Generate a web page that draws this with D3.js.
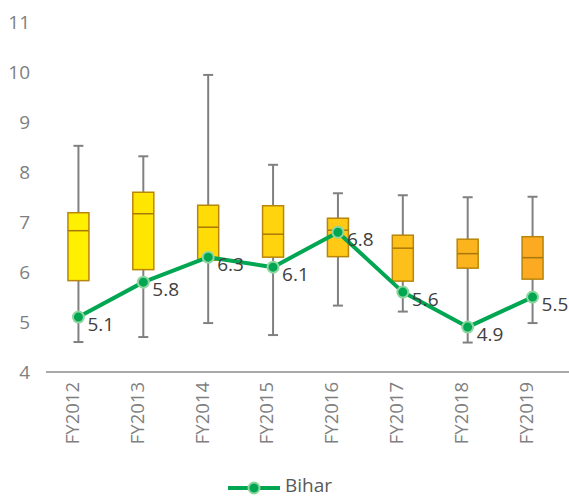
<!DOCTYPE html>
<html>
<head>
<meta charset="utf-8">
<script src="https://cdn.jsdelivr.net/npm/d3@7"></script>
<style>
  html, body { margin: 0; padding: 0; background: #fff; }
  svg { display: block; font-family: "Open Sans", "Noto Sans", sans-serif; }
</style>
</head>
<body>
<svg id="chart" width="569" height="497"></svg>
<script>
// Fiscal years on the x axis
const years = ["FY2012", "FY2013", "FY2014", "FY2015", "FY2016", "FY2017", "FY2018", "FY2019"];

// Box-plot statistics across states for each year
const whiskerLow  = [4.60, 4.70, 4.98, 4.74, 5.33, 5.21, 4.59, 4.98];
const boxQ1       = [5.83, 6.05, 6.24, 6.30, 6.31, 5.82, 6.08, 5.86];
const boxMedian   = [6.83, 7.17, 6.90, 6.76, 6.84, 6.48, 6.37, 6.29];
const boxQ3       = [7.19, 7.60, 7.34, 7.33, 7.08, 6.74, 6.66, 6.71];
const whiskerHigh = [8.53, 8.32, 9.95, 8.15, 7.58, 7.54, 7.50, 7.51];

// Bihar's value for each year
const bihar = [5.1, 5.8, 6.3, 6.1, 6.8, 5.6, 4.9, 5.5];

// Y axis tick values
const yTicks = [4, 5, 6, 7, 8, 9, 10, 11];

// Box fill colours, shading from yellow to orange over the years
const boxColors = ["#FFF000", "#FFE600", "#FFDC05", "#FFD40E", "#FFC916", "#FDC01A", "#FCB41E", "#FBAA22"];

const svg = d3.select("#chart");

const x = d3.scaleBand().domain(years).range([46, 565]).padding(0);
const y = d3.scaleLinear().domain([4, 11]).range([372, 22.5]);

const boxW = 21;
const capW = 10;
const cx = d => x(d) + x.bandwidth() / 2;

// Y axis: labels only
const yAxis = svg.append("g")
  .attr("transform", "translate(46,0)")
  .call(d3.axisLeft(y).tickValues(yTicks).tickSize(0).tickPadding(16).tickFormat(d3.format("d")));
yAxis.select(".domain").remove();
yAxis.selectAll("text")
  .attr("fill", "#7f7f7f")
  .style("font-size", "19px")
  .style("font-family", "'Open Sans', sans-serif");

// X axis baseline runs to the right edge
svg.append("line")
  .attr("x1", 46).attr("x2", 569)
  .attr("y1", y(4)).attr("y2", y(4))
  .attr("stroke", "#8c8c8c").attr("stroke-width", 1.5);

// X axis with rotated year labels
const xAxis = svg.append("g")
  .attr("transform", `translate(0,${y(4)})`)
  .call(d3.axisBottom(x).tickSize(0));
xAxis.select(".domain").remove();
xAxis.selectAll("text")
  .attr("transform", "rotate(-90)")
  .attr("text-anchor", "end")
  .attr("x", -10)
  .attr("y", 0)
  .attr("dy", "0.02em")
  .attr("fill", "#7f7f7f")
  .style("font-size", "18.5px")
  .style("font-family", "'Open Sans', sans-serif");

// Box plots
const boxes = svg.append("g").selectAll("g.box")
  .data(years)
  .join("g")
  .attr("class", "box");

boxes.append("line")
  .attr("x1", d => cx(d)).attr("x2", d => cx(d))
  .attr("y1", (d, i) => y(whiskerLow[i]))
  .attr("y2", (d, i) => y(whiskerHigh[i]))
  .attr("stroke", "#808080").attr("stroke-width", 2);

boxes.append("line")
  .attr("x1", d => cx(d) - capW / 2).attr("x2", d => cx(d) + capW / 2)
  .attr("y1", (d, i) => y(whiskerHigh[i])).attr("y2", (d, i) => y(whiskerHigh[i]))
  .attr("stroke", "#808080").attr("stroke-width", 2);

boxes.append("line")
  .attr("x1", d => cx(d) - capW / 2).attr("x2", d => cx(d) + capW / 2)
  .attr("y1", (d, i) => y(whiskerLow[i])).attr("y2", (d, i) => y(whiskerLow[i]))
  .attr("stroke", "#808080").attr("stroke-width", 2);

boxes.append("rect")
  .attr("x", d => cx(d) - boxW / 2)
  .attr("width", boxW)
  .attr("y", (d, i) => y(boxQ3[i]))
  .attr("height", (d, i) => y(boxQ1[i]) - y(boxQ3[i]))
  .attr("fill", (d, i) => boxColors[i])
  .attr("stroke", "#B8860B").attr("stroke-width", 1.5);

boxes.append("line")
  .attr("x1", d => cx(d) - boxW / 2).attr("x2", d => cx(d) + boxW / 2)
  .attr("y1", (d, i) => y(boxMedian[i])).attr("y2", (d, i) => y(boxMedian[i]))
  .attr("stroke", "#A9780A").attr("stroke-width", 1.5);

// Bihar line with markers
const green = "#00A651";
const line = d3.line().x((d, i) => cx(years[i])).y(d => y(d));

svg.append("path")
  .datum(bihar)
  .attr("d", line)
  .attr("fill", "none")
  .attr("stroke", green)
  .attr("stroke-width", 4)
  .attr("stroke-linejoin", "round");

svg.append("g").selectAll("circle")
  .data(bihar)
  .join("circle")
  .attr("cx", (d, i) => cx(years[i]))
  .attr("cy", d => y(d))
  .attr("r", 5.5)
  .attr("fill", green)
  .attr("stroke", "#8fd6a0")
  .attr("stroke-width", 2);

// Value labels beside each marker
const fmt = d3.format(".1f");
svg.append("g").selectAll("text")
  .data(bihar)
  .join("text")
  .attr("x", (d, i) => cx(years[i]) + 9)
  .attr("y", d => y(d) + 7)
  .attr("dy", "0.35em")
  .attr("fill", "#404040")
  .style("font-size", "19px")
  .text(d => fmt(d));

// Legend
const legend = svg.append("g").attr("transform", "translate(228,488)");
legend.append("line")
  .attr("x1", 0).attr("x2", 52).attr("y1", 0).attr("y2", 0)
  .attr("stroke", green).attr("stroke-width", 4);
legend.append("circle")
  .attr("cx", 26).attr("cy", 0).attr("r", 5.5)
  .attr("fill", green).attr("stroke", "#8fd6a0").attr("stroke-width", 2);
legend.append("text")
  .attr("x", 57).attr("y", 4)
  .attr("fill", "#595959")
  .style("font-size", "19px")
  .text("Bihar");
</script>
</body>
</html>
